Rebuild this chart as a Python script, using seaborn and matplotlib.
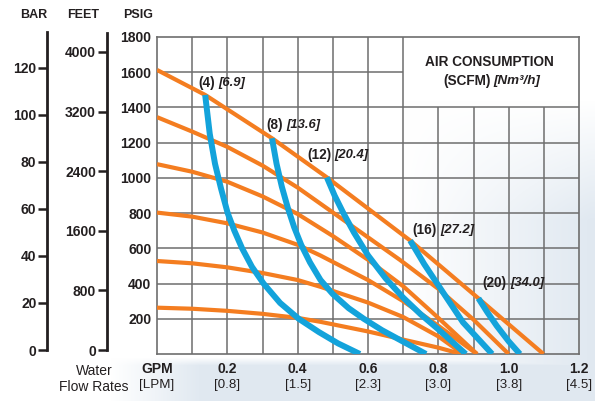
import numpy as np
import pandas as pd
import matplotlib
matplotlib.use("Agg")
import matplotlib.pyplot as plt
import seaborn as sns
from matplotlib.transforms import blended_transform_factory

# ---------------- data ----------------
# Orange curves: discharge pressure (PSIG) vs water flow (GPM)
orange_1_gpm = [0.0, 0.137, 0.327, 0.483, 0.60, 0.72, 0.80, 0.914, 1.0, 1.099]
orange_1_psi = [1613, 1471, 1225, 1003, 826, 644, 509, 316, 169, 0]
orange_2_gpm = [0.0, 0.1, 0.2, 0.3, 0.4, 0.492, 0.577, 0.691, 0.8, 0.9, 1.0]
orange_2_psi = [1345, 1263, 1176, 1070, 945, 815, 695, 534, 370, 195, 0]
orange_3_gpm = [0.0, 0.1, 0.2, 0.3, 0.4, 0.5, 0.6, 0.7, 0.8, 0.91]
orange_3_psi = [1078, 1035, 978, 895, 795, 670, 535, 385, 205, 0]
orange_4_gpm = [0.0, 0.1, 0.2, 0.3, 0.4, 0.464, 0.6, 0.7, 0.8, 0.91]
orange_4_psi = [803, 780, 742, 690, 620, 560, 420, 300, 160, 0]
orange_5_gpm = [0.0, 0.1, 0.2, 0.3, 0.4, 0.464, 0.6, 0.7, 0.8, 0.87]
orange_5_psi = [528, 515, 492, 460, 420, 382, 292, 210, 100, 0]
orange_6_gpm = [0.0, 0.1, 0.2, 0.3, 0.4, 0.464, 0.6, 0.682, 0.8, 0.865]
orange_6_psi = [263, 257, 245, 228, 205, 183, 128, 90, 36, 0]

# Blue curves: air consumption SCFM [Nm3/h]
blue_4_gpm = [0.137, 0.150, 0.165, 0.182, 0.201, 0.220, 0.242, 0.270, 0.303, 0.350, 0.403,
              0.460, 0.515, 0.577]
blue_4_psi = [1471, 1250, 1080, 940, 800, 700, 600, 495, 400, 290, 200, 125, 60, 0]
blue_8_gpm = [0.327, 0.340, 0.355, 0.372, 0.390, 0.410, 0.435, 0.465, 0.500, 0.545, 0.588,
              0.640, 0.700, 0.765]
blue_8_psi = [1225, 1080, 950, 830, 720, 620, 520, 420, 340, 260, 200, 135, 70, 0]
blue_12_gpm = [0.483, 0.505, 0.530, 0.560, 0.600, 0.650, 0.700, 0.750, 0.800, 0.878]
blue_12_psi = [1003, 900, 800, 690, 560, 430, 320, 225, 140, 0]
blue_16_gpm = [0.72, 0.76, 0.80, 0.87, 0.953]
blue_16_psi = [644, 510, 390, 180, 0]
blue_20_gpm = [0.914, 0.94, 0.966, 1.0, 1.032]
blue_20_psi = [316, 235, 160, 72, 0]

scfm_labels = ["(4)", "(8)", "(12)", "(16)", "(20)"]
nm3h_labels = ["[6.9]", "[13.6]", "[20.4]", "[27.2]", "[34.0]"]

gpm_ticks = [0.0, 0.2, 0.4, 0.6, 0.8, 1.0, 1.2]
gpm_labels = ["GPM", "0.2", "0.4", "0.6", "0.8", "1.0", "1.2"]
lpm_labels = ["[LPM]", "[0.8]", "[1.5]", "[2.3]", "[3.0]", "[3.8]", "[4.5]"]
psig_ticks = [200, 400, 600, 800, 1000, 1200, 1400, 1600, 1800]
bar_ticks = [0, 20, 40, 60, 80, 100, 120]
feet_ticks = [0, 800, 1600, 2400, 3200, 4000]

# ---------------- styling ----------------
sns.set_theme(style="white")
plt.rcParams["font.family"] = ["Liberation Sans Narrow", "Liberation Sans", "DejaVu Sans"]

ORANGE = "#F47D20"
BLUE = "#13A3DB"
GRID = "#6E6E6E"
INK = "#231F20"
W, H = 595, 401
FS_TICK = 10
FS_LAB = 9.8

fig = plt.figure(figsize=(W / 100, H / 100), dpi=100)
fig.patch.set_facecolor("white")

# subtle photographic background tint (bottom/right)
bg = fig.add_axes([0, 0, 1, 1])
bg.set_zorder(-5)
X, Y = np.meshgrid(np.arange(W), np.arange(H))
t1 = np.clip((X - 400) / 190, 0, 1) * np.clip((Y - 100) / 120, 0, 1)
t2 = np.clip((Y - 357) / 8, 0, 1) * np.clip((X - 110) / 90, 0, 1)
t = np.clip(np.maximum(t1, t2), 0, 1) * 0.8
tint = np.array([0.85, 0.89, 0.93])
img = 1 - t[..., None] * (1 - tint)
bg.imshow(img, extent=[0, W, H, 0], aspect="auto", interpolation="bilinear")
bg.set_xlim(0, W)
bg.set_ylim(H, 0)
bg.axis("off")

# main axes
ax = fig.add_axes([157 / W, (H - 354) / H, 422 / W, 317 / H])
ax.set_facecolor("none")

# grid with blank "AIR CONSUMPTION" box at top right
for gx in np.arange(0.1, 1.15, 0.1):
    top = 1400 if gx > 0.75 else 1800
    ax.vlines(gx, 0, top, color=GRID, lw=1.1, zorder=1)
for gy in range(200, 1800, 200):
    right = 0.7 if gy > 1450 else 1.2
    ax.hlines(gy, 0, right, color=GRID, lw=1.1, zorder=1)
for s in ax.spines.values():
    s.set_color(GRID)
    s.set_linewidth(1.2)
    s.set_visible(True)

orange_sets = [
    (orange_1_gpm, orange_1_psi), (orange_2_gpm, orange_2_psi), (orange_3_gpm, orange_3_psi),
    (orange_4_gpm, orange_4_psi), (orange_5_gpm, orange_5_psi), (orange_6_gpm, orange_6_psi),
]
blue_sets = [
    (blue_4_gpm, blue_4_psi), (blue_8_gpm, blue_8_psi), (blue_12_gpm, blue_12_psi),
    (blue_16_gpm, blue_16_psi), (blue_20_gpm, blue_20_psi),
]

orange_df = pd.concat(
    [pd.DataFrame({"gpm": g, "psi": p, "curve": f"o{i}"}) for i, (g, p) in enumerate(orange_sets)]
)
blue_df = pd.concat(
    [pd.DataFrame({"gpm": g, "psi": p, "curve": f"b{i}"}) for i, (g, p) in enumerate(blue_sets)]
)

sns.lineplot(data=orange_df, x="gpm", y="psi", hue="curve", units="curve", estimator=None,
             sort=False, palette=[ORANGE] * len(orange_sets), lw=3.0, legend=False, ax=ax,
             zorder=3, solid_capstyle="butt", solid_joinstyle="round")
sns.lineplot(data=blue_df, x="gpm", y="psi", hue="curve", units="curve", estimator=None,
             sort=False, palette=[BLUE] * len(blue_sets), lw=4.3, legend=False, ax=ax,
             zorder=4, solid_capstyle="butt", solid_joinstyle="round")

ax.set_xlim(0, 1.2)
ax.set_ylim(0, 1800)
ax.set_xlabel("")
ax.set_ylabel("")

ax.set_yticks(psig_ticks)
ax.set_yticklabels([str(v) for v in psig_ticks], fontsize=FS_TICK, fontweight="bold", color=INK)
ax.set_xticks(gpm_ticks)
ax.set_xticklabels(gpm_labels, fontsize=FS_TICK, fontweight="bold", color=INK)
ax.tick_params(axis="y", length=0, pad=4)
ax.tick_params(axis="x", length=0, pad=5.5)

trans = blended_transform_factory(ax.transData, ax.transAxes)
for gx, lab in zip(gpm_ticks, lpm_labels):
    ax.text(gx, -0.098, lab, transform=trans, ha="center", va="center",
            fontsize=9.6, color=INK, clip_on=False)

# curve labels
label_offsets = [(-4.8, 8.7), (-4.1, 9.5), (-14.3, 16.1), (1.8, 7.6), (3.1, 10.9)]
for (g, p), lab, nm, (dx, dy) in zip(blue_sets, scfm_labels, nm3h_labels, label_offsets):
    t_a = ax.annotate(lab, xy=(g[0], p[0]), xytext=(dx, dy), textcoords="offset points",
                      ha="left", va="center", fontsize=FS_LAB, fontweight="bold", color=INK,
                      zorder=6)
    ax.annotate(nm, xy=(1, 0.5), xycoords=t_a, xytext=(2.4, 0), textcoords="offset points",
                ha="left", va="center", fontsize=9.4, fontweight="bold", fontstyle="italic",
                color=INK, zorder=6)

ax.text(0.9445, 1660, "AIR CONSUMPTION", ha="center", va="center", fontsize=9.8,
        fontweight="bold", color=INK)
t_s = ax.text(0.813, 1551, "(SCFM)", ha="left", va="center", fontsize=9.8,
              fontweight="bold", color=INK)
ax.annotate("[Nm\u00b3/h]", xy=(1, 0.5), xycoords=t_s, xytext=(2.4, 0), textcoords="offset points",
            ha="left", va="center", fontsize=9.6, fontweight="bold", fontstyle="italic",
            color=INK)

# BAR and FEET scales
def side_scale(xpix, ytop, ymax, ticks):
    a = fig.add_axes([xpix / W, (H - 350) / H, 0.0005, (350 - ytop) / H])
    a.set_facecolor("none")
    for k in ("top", "right", "bottom"):
        a.spines[k].set_visible(False)
    a.spines["left"].set_color(INK)
    a.spines["left"].set_linewidth(2.0)
    a.set_ylim(0, ymax)
    a.set_yticks(ticks)
    a.set_yticklabels([str(v) for v in ticks], fontsize=FS_TICK, fontweight="bold", color=INK)
    a.tick_params(axis="y", length=6.5, width=1.8, color=INK, pad=1.5, left=True)
    a.set_xticks([])
    return a

side_scale(47.5, 32, 135.3, bar_ticks)
side_scale(107, 33, 4255, feet_ticks)

for xp, txt in [(34, "BAR"), (83, "FEET"), (138, "PSIG")]:
    fig.text(xp / W, 1 - 15 / H, txt, ha="center", va="center", fontsize=9,
             fontweight="bold", color=INK)
fig.text(94 / W, 1 - 379 / H, "Water\nFlow Rates", ha="center", va="center", fontsize=10,
         color=INK, linespacing=1.2)

fig.savefig("out.png", dpi=100)
